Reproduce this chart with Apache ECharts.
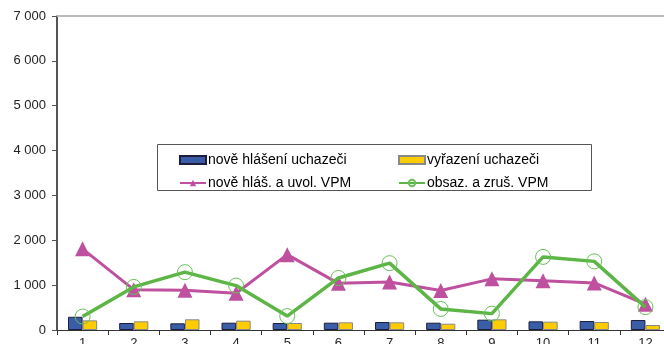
<!DOCTYPE html>
<html><head><meta charset="utf-8">
<script src="https://cdn.jsdelivr.net/npm/echarts@6/dist/echarts.min.js"></script>
<style>html,body{margin:0;padding:0;background:#fff}#c{width:664px;height:344px}</style>
</head><body><div id="c"></div>
<script>
const categories = ['1','2','3','4','5','6','7','8','9','10','11','12'];
const noveHlaseni = [295,156,149,163,156,163,178,163,230,193,200,223];
const vyrazeni = [215,193,238,208,156,171,171,141,238,186,178,111];
const noveVPM = [1810,900,885,820,1680,1040,1070,880,1140,1100,1050,575];
const obsazVPM = [300,960,1290,990,310,1160,1490,470,365,1630,1530,510];
const yTicks = [0,1000,2000,3000,4000,5000,6000,7000];

const names = ['nově hlášení uchazeči','vyřazení uchazeči','nově hláš. a uvol. VPM','obsaz. a zruš. VPM'];
const font = 'Liberation Sans, Arial, sans-serif';
const fmt = v => String(v).replace(/\B(?=(\d{3})+(?!\d))/g, ' ');

const chart = echarts.init(document.getElementById('c'), null, {renderer:'canvas'});
const legendBase = {orient:'horizontal', itemWidth:26, itemHeight:8, itemGap:0, z:10,
  textStyle:{fontFamily:font, fontSize:14, color:'#000', padding:[0,0,0,-3]}, selectedMode:false};
chart.setOption({
  animation:false,
  backgroundColor:'#fff',
  grid:{left:57, top:16, width:614, height:314, containLabel:false, outerBoundsMode:'none'},
  graphic:[{type:'rect', shape:{x:157.5, y:144.5, width:434, height:46},
    style:{fill:'#fff', stroke:'#555', lineWidth:1}, z:1}],
  legend:[
    Object.assign({}, legendBase, {data:[{name:names[0], icon:'rect'}], left:174, top:148}),
    Object.assign({}, legendBase, {data:[{name:names[1], icon:'rect'}], left:393, top:148}),
    Object.assign({}, legendBase, {data:[names[2]], left:174, top:171}),
    Object.assign({}, legendBase, {data:[names[3]], left:393, top:171})
  ],
  xAxis:[{type:'category', data:categories, boundaryGap:true,
    axisLine:{lineStyle:{color:'#333', width:1}},
    axisTick:{show:true, length:5, inside:false, lineStyle:{color:'#333'}},
    axisLabel:{fontFamily:font, fontSize:13, color:'#222', margin:7}},
    {type:'category', data:categories, position:'top',
    axisLine:{show:true, lineStyle:{color:'#bbb', width:2}}, axisTick:{show:false}, axisLabel:{show:false}}],
  yAxis:{type:'value', min:0, max:7000, interval:1000,
    axisLine:{show:true, lineStyle:{color:'#555', width:2}},
    axisTick:{show:true, length:5, lineStyle:{color:'#555'}},
    splitLine:{show:false},
    axisLabel:{fontFamily:font, fontSize:13, color:'#222', margin:11,
      formatter: v => yTicks.includes(v) ? fmt(v) : ''}},
  series:[
    {name:names[0], type:'bar', data:noveHlaseni, barGap:'0%', barCategoryGap:'43%',
      itemStyle:{color:'#3A5DA8', borderColor:'#1e1e3c', borderWidth:1}},
    {name:names[1], type:'bar', data:vyrazeni, barGap:'0%', barCategoryGap:'43%',
      itemStyle:{color:'#FFCC00', borderColor:'#888', borderWidth:1}},
    {name:names[2], type:'line', data:noveVPM, symbol:'triangle', symbolSize:15,
      lineStyle:{color:'#BF509F', width:3}, itemStyle:{color:'#BF509F'}, z:3},
    {name:names[3], type:'line', data:obsazVPM, symbol:'circle', symbolSize:15,
      lineStyle:{color:'#5CB545', width:3.5},
      itemStyle:{color:'rgba(255,255,255,0)', borderColor:'#66C255', borderWidth:1}, z:4}
  ]
});
</script></body></html>
